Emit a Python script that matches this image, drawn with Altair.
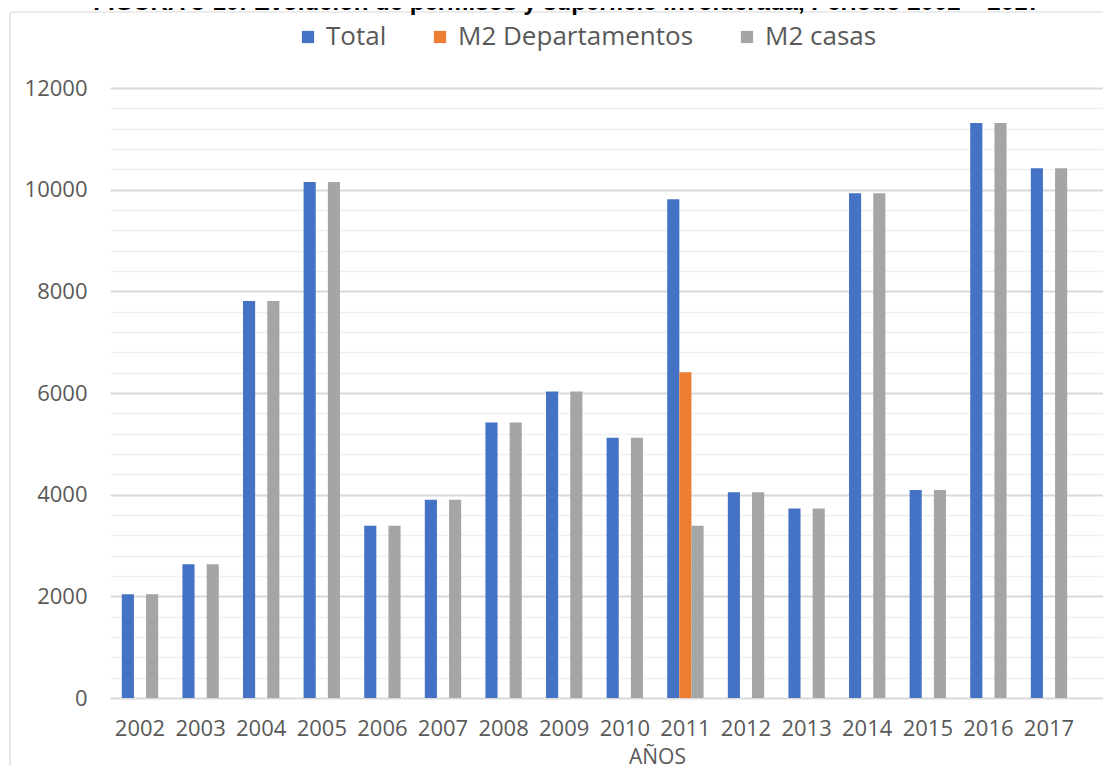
import altair as alt
import pandas as pd

years = [str(y) for y in range(2002, 2018)]
series = ["Total", "M2 Departamentos", "M2 casas"]
colors = ["#4472C4", "#ED7D31", "#A5A5A5"]
total = [2040, 2630, 7810, 10150, 3390, 3900, 5420, 6030, 5120, 9810, 4050, 3730, 9930, 4090, 11310, 10420]
deptos = [0, 0, 0, 0, 0, 0, 0, 0, 0, 6410, 0, 0, 0, 0, 0, 0]
casas = [2040, 2630, 7810, 10150, 3390, 3900, 5420, 6030, 5120, 3390, 4050, 3730, 9930, 4090, 11310, 10420]
y_ticks = list(range(0, 12001, 400))
title_text = "FIGURA 3-10: Evolución de permisos y superficie involucrada, Período 2002 – 2017"
x_title = "AÑOS"

rows = []
for i, yr in enumerate(years):
    for s, vals in zip(series, [total, deptos, casas]):
        rows.append({"year": yr, "series": s, "value": vals[i]})
df = pd.DataFrame(rows)

FONT = "Open Sans"
GREY_TXT = "#595959"

bars = alt.Chart(df).mark_bar().encode(
    x=alt.X(
        "year:N", sort=years,
        scale=alt.Scale(paddingInner=0.4, paddingOuter=0.393, align=0.248),
        axis=alt.Axis(
            title=x_title, domain=False, ticks=False, tickSize=0, labelPadding=20,
            labelAngle=0, labelFont=FONT, labelFontSize=22, labelColor=GREY_TXT,
            titleFont=FONT, titleFontSize=21, titleColor=GREY_TXT, titleFontWeight="normal",
            titleX=547, titleY=65, titleAlign="center", titleBaseline="alphabetic",
            grid=False,
        ),
    ),
    xOffset=alt.XOffset("series:N", sort=series),
    y=alt.Y(
        "value:Q",
        scale=alt.Scale(domain=[0, 12000], nice=False),
        axis=alt.Axis(
            title=None, values=y_ticks, domain=False, ticks=False, tickSize=0,
            labelPadding=23, labelFont=FONT, labelFontSize=22, labelColor=GREY_TXT,
            labelExpr="datum.value % 2000 === 0 ? format(datum.value, 'd') : ''",
            grid=True,
            gridColor={"condition": {"test": "datum.value % 2000 === 0", "value": "#d9d9d9"}, "value": "#f0f0f0"},
            gridWidth={"condition": {"test": "datum.value % 2000 === 0", "value": 1.8}, "value": 1.4},
        ),
    ),
    color=alt.Color(
        "series:N", sort=series,
        scale=alt.Scale(domain=series, range=colors),
        legend=alt.Legend(
            title=None, orient="none", direction="horizontal", legendX=185, legendY=-64,
            symbolType="square", symbolSize=150, symbolStrokeWidth=0,
            labelFont=FONT, labelFontSize=26, labelColor=GREY_TXT, labelOffset=5,
            labelLimit=0, columnPadding=40,
        ),
    ),
)

border = alt.Chart(pd.DataFrame({"k": [0]})).mark_rect(
    fill="white", fillOpacity=0, stroke="#d9d9d9", strokeWidth=1.2, cornerRadius=3
).encode(x=alt.value(-100), y=alt.value(-76), x2=alt.value(1100), y2=alt.value(760))

title = alt.Chart(pd.DataFrame({"t": [title_text]})).mark_text(
    font="Liberation Sans", fontWeight="bold", fontSize=24, color="#000000",
    align="center", baseline="alphabetic"
).encode(text="t:N", x=alt.value(457), y=alt.value(-78))

chart = alt.layer(border, title, bars).properties(
    width=993, height=610,
    padding={"left": 102, "top": 80, "right": 0, "bottom": 68},
    autosize=alt.AutoSizeParams(type="none"),
).configure_view(stroke=None)

chart.save("out.html", embed_options={"renderer": "svg", "actions": False})
